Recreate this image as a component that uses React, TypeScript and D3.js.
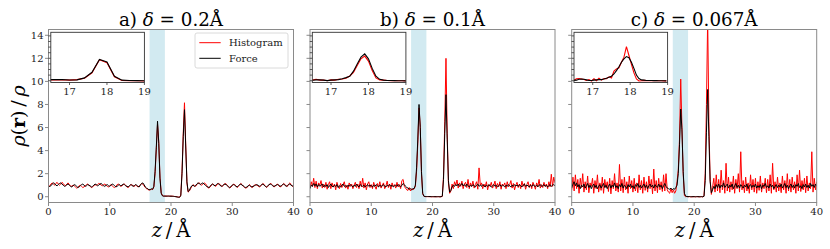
import React from 'react';
import * as d3 from 'd3';

// ---------- data ----------
const panelLabels = ['a)', 'b)', 'c)'];
const deltaLabels = ['0.2', '0.1', '0.067'];
const xTicks = [0, 10, 20, 30, 40];
const yTicks = [0, 2, 4, 6, 8, 10, 12, 14];
const insetXTicks = [17, 18, 19];
const insetYTicks = [0, 1, 2, 3, 4, 5, 6, 7, 8];
const shadeRange = [16.5, 19];
const mainStep = 0.2; // z spacing of the main series, z from 0 to 40

const forceA = [
  0.85,0.9,0.95,1.1,1.2,1.15,1.0,0.95,1.05,1.15,
  1.2,1.1,1.0,0.9,0.95,1.05,1.1,1.0,0.9,0.85,
  0.95,1.05,1.0,0.9,0.8,0.85,0.95,1.05,1.1,1.0,
  0.9,0.95,1.05,1.0,0.95,0.85,0.9,1.0,1.1,1.05,
  0.95,1.0,1.1,1.15,1.05,0.95,0.9,1.0,1.05,0.95,
  0.9,1.0,1.1,1.05,0.95,0.85,0.9,1.0,1.05,0.95,
  1.0,1.1,1.05,0.95,0.9,0.85,0.95,1.05,1.0,0.9,
  0.95,1.05,1.0,0.9,0.85,1.0,1.15,1.2,1.05,0.85,
  0.75,0.7,0.6,0.62,0.68,0.65,0.9,2.2,4.3,6.55,
  4.6,1.6,0.3,0.08,0.05,0.06,0.05,0.05,0.06,0.05,
  0.05,0.04,0.03,0.02,0.0,-0.02,-0.04,-0.05,0.1,2.0,
  5.2,7.55,4.4,1.3,0.45,0.55,0.8,0.95,1.0,0.9,
  0.95,1.1,1.2,1.15,1.05,1.15,1.2,1.1,1.0,0.9,
  0.85,0.8,0.9,1.05,1.1,1.0,0.95,1.05,1.15,1.1,
  1.0,0.9,0.95,1.05,1.1,1.05,0.95,0.85,0.8,0.9,
  1.0,1.05,1.0,0.9,0.85,0.95,1.05,1.1,1.0,0.95,
  0.85,0.8,0.85,0.95,1.0,0.9,0.85,0.9,0.95,1.0,
  1.05,1.0,0.9,0.95,1.05,1.1,1.0,0.9,0.85,0.95,
  1.05,1.1,1.05,0.95,0.9,0.95,1.0,1.05,1.0,0.9,
  0.95,1.05,1.1,1.0,0.9,0.95,1.05,1.1,1.0,0.95,
  0.9,
];
const histA = [
  0.8,0.95,1.1,1.2,1.1,1.0,1.15,1.25,1.1,1.0,
  1.1,1.25,1.15,1.0,0.95,1.1,1.2,1.05,0.95,0.9,
  1.0,0.95,0.85,0.75,0.8,0.95,1.0,0.9,0.8,0.85,
  0.95,1.05,1.1,1.0,0.9,0.8,0.85,0.95,1.05,1.0,
  1.05,1.15,1.1,1.0,0.95,1.05,1.1,1.0,0.9,0.85,
  0.95,1.05,0.95,0.85,0.8,0.9,1.05,1.1,1.0,0.9,
  0.95,1.05,1.1,1.0,0.85,0.8,0.9,1.0,1.05,0.95,
  0.9,1.0,0.95,0.85,0.9,1.05,1.15,1.1,0.95,0.8,
  0.7,0.65,0.58,0.6,0.65,0.62,0.85,2.0,4.1,6.3,
  4.8,1.7,0.35,0.1,0.06,0.05,0.06,0.06,0.05,0.05,
  0.05,0.05,0.04,0.02,0.01,-0.01,-0.03,-0.04,0.15,2.2,
  5.5,8.15,4.6,1.2,0.4,0.5,0.7,0.9,1.05,0.95,
  0.9,1.05,1.15,1.2,1.1,1.0,1.1,1.2,1.15,1.0,
  0.8,0.75,0.85,1.0,1.1,1.05,0.9,0.95,1.1,1.15,
  1.05,0.95,0.9,1.0,1.15,1.1,1.0,0.85,0.75,0.85,
  0.95,1.1,1.05,0.95,0.8,0.9,1.0,1.15,1.05,0.9,
  0.8,0.75,0.8,0.9,1.05,0.95,0.8,0.85,1.0,1.05,
  1.0,0.95,0.85,0.9,1.0,1.15,1.05,0.95,0.8,0.9,
  1.0,1.15,1.1,1.0,0.85,0.9,1.05,1.1,0.95,0.85,
  0.9,1.0,1.15,1.05,0.95,0.9,1.1,1.2,1.05,0.9,
  0.85,
];
const forceB = [
  0.7,1.0,0.9,1.15,0.95,1.1,0.85,1.05,0.9,1.0,
  1.1,0.85,1.0,0.9,1.05,0.8,0.95,1.1,0.9,0.85,
  1.0,0.9,1.05,0.8,0.95,0.85,1.0,1.1,0.9,0.95,
  0.85,1.0,0.9,1.05,0.95,0.85,1.0,0.9,1.1,0.95,
  0.85,1.05,0.95,0.9,1.0,0.85,0.95,1.05,0.9,1.0,
  0.95,0.85,1.0,0.9,1.05,0.95,0.85,1.0,0.9,0.95,
  1.05,0.9,0.85,1.0,0.95,1.05,0.9,1.0,0.85,0.95,
  1.0,0.9,1.05,0.95,0.85,1.0,1.15,1.05,0.9,0.8,
  0.75,0.65,0.7,0.6,0.7,0.7,1.0,2.5,5.0,8.0,
  6.0,2.2,0.3,0.05,0.02,0.02,0.01,0.02,0.01,0.01,
  0.01,0.0,0.01,0.0,0.0,0.01,0.0,0.0,0.05,1.5,
  5.5,8.85,5.0,1.4,0.4,0.55,0.85,1.0,0.9,1.05,
  0.95,1.1,0.9,1.0,1.15,0.95,1.05,0.9,1.1,0.95,
  0.85,1.0,0.9,1.05,0.95,0.85,1.0,1.1,0.9,1.0,
  0.9,1.05,0.95,0.85,1.0,0.9,1.05,0.95,0.85,0.95,
  1.05,0.9,1.0,0.85,0.95,1.05,0.9,1.0,0.95,0.85,
  1.0,0.9,1.05,0.95,0.85,1.0,0.9,1.05,0.95,1.0,
  0.9,1.05,0.95,0.85,1.0,1.1,0.9,1.0,0.95,0.85,
  1.0,0.9,1.05,0.95,0.9,1.0,0.85,1.0,1.05,0.9,
  0.95,1.05,0.9,1.0,0.85,0.95,1.05,0.9,1.0,1.05,
  0.95,
];
const histB = [
  0.8,1.3,0.9,1.6,0.8,1.35,0.7,1.2,1.0,1.4,
  0.75,1.1,0.8,1.25,0.65,1.05,1.3,0.7,1.2,0.85,
  1.1,0.6,1.25,0.9,0.7,1.15,0.8,1.05,1.3,0.75,
  1.0,0.65,1.2,0.9,1.1,0.7,1.0,1.25,0.8,1.1,
  0.7,1.35,0.85,1.6,0.75,1.2,0.6,1.1,1.3,0.8,
  1.05,0.7,1.25,0.9,0.65,1.15,0.85,1.3,0.75,1.0,
  1.2,0.7,0.95,1.35,0.8,1.1,0.65,1.2,0.9,1.05,
  0.75,1.25,0.85,1.05,0.7,1.4,1.5,0.9,0.75,0.6,
  0.55,0.8,0.5,0.7,0.6,0.7,0.9,2.2,4.6,7.7,
  6.1,2.0,0.25,0.03,0.01,0.0,0.02,0.0,0.01,-0.01,
  0.0,0.01,-0.01,0.0,0.01,0.0,-0.01,0.0,0.03,1.8,
  6.5,12.0,5.5,1.2,0.3,0.5,1.1,0.7,1.3,1.0,
  1.45,0.75,1.2,0.9,1.35,0.7,1.1,1.25,0.8,1.5,
  0.7,1.2,0.9,1.35,0.75,1.05,1.3,0.65,2.5,1.0,
  1.2,0.7,1.1,0.85,1.3,0.6,1.05,0.9,1.25,0.75,
  1.0,1.35,0.7,1.15,0.85,1.3,0.65,1.1,0.95,1.2,
  0.7,1.3,0.85,1.05,1.4,0.75,1.15,0.6,1.0,1.25,
  0.8,1.1,0.7,1.35,0.9,1.15,0.65,1.05,1.3,0.8,
  1.1,0.7,1.25,1.0,0.65,1.2,0.9,1.5,0.75,1.05,
  0.8,1.25,0.9,1.1,0.7,1.3,0.85,1.95,0.9,1.7,
  1.2,
];
const forceC = [
  0.75,1.1,1.3,0.95,1.2,0.85,1.05,0.7,1.0,0.85,
  1.1,0.75,0.95,1.15,0.8,1.0,0.7,0.95,1.1,0.8,
  1.0,0.7,0.9,1.05,0.75,0.95,1.15,0.8,1.0,0.7,
  0.9,1.1,0.75,1.0,0.85,1.2,0.8,0.95,0.7,1.05,
  0.85,1.15,0.75,1.0,0.9,0.7,1.05,0.85,1.1,0.8,
  0.95,0.7,1.05,0.9,1.15,0.8,1.0,0.75,0.95,1.1,
  0.8,1.0,0.7,0.95,1.1,0.85,1.0,0.75,1.05,0.9,
  0.8,1.1,0.85,1.0,0.7,0.95,1.15,0.9,0.75,0.7,
  0.65,0.75,0.6,0.7,0.65,0.8,1.0,2.0,4.5,7.6,
  5.8,2.2,0.3,0.05,0.02,0.01,0.02,0.0,0.01,0.0,
  0.01,0.0,0.0,0.01,0.0,0.0,0.01,0.0,0.03,1.4,
  5.6,9.3,5.2,1.3,0.35,0.6,0.9,0.7,1.05,0.8,
  1.1,0.75,1.0,0.85,1.2,0.8,0.95,1.1,0.75,1.0,
  0.85,1.1,0.7,0.95,1.15,0.8,1.0,0.75,1.05,0.9,
  0.75,1.0,0.85,1.1,0.7,0.95,1.05,0.8,1.0,0.85,
  1.1,0.75,0.95,0.8,1.05,0.7,1.0,0.9,1.15,0.8,
  0.95,0.75,1.1,0.85,1.0,0.7,0.9,1.05,0.8,1.0,
  0.85,1.1,0.75,0.95,1.15,0.8,1.0,0.7,0.95,1.1,
  0.8,1.0,0.75,1.05,0.9,1.15,0.8,0.95,0.7,1.05,
  0.85,1.1,0.8,1.0,0.75,1.15,0.9,1.05,0.8,1.1,
  0.9,
];
const histC = [
  0.6,1.7,0.5,1.9,0.7,1.5,0.3,1.6,0.8,2.0,
  0.4,1.3,0.6,1.8,0.35,1.2,0.9,1.6,0.3,1.4,
  0.7,1.9,0.4,1.2,0.55,1.7,0.3,1.5,0.8,1.3,
  0.45,1.6,0.25,1.4,0.7,2.0,0.5,1.2,0.4,2.8,
  0.5,1.5,0.35,1.7,0.6,1.3,0.3,1.8,0.7,1.4,
  0.4,1.6,0.5,1.2,0.35,1.9,0.6,1.4,0.3,1.7,
  0.55,1.3,0.4,1.8,0.7,1.5,0.25,2.4,0.5,1.4,
  0.35,1.6,0.6,1.3,0.45,1.9,0.5,2.0,0.6,0.4,
  0.3,0.7,0.35,0.6,0.3,0.5,1.3,2.3,5.0,10.2,
  6.0,2.0,0.1,0.0,0.02,-0.01,0.01,0.0,-0.02,0.01,
  0.0,-0.01,0.02,0.0,-0.01,0.0,0.01,-0.02,0.05,2.0,
  8.0,15.5,6.5,1.5,0.2,0.8,1.6,0.4,1.9,0.5,
  1.5,0.35,2.3,0.6,1.4,0.3,2.9,0.5,1.7,0.4,
  1.3,0.6,1.8,0.3,1.5,0.7,2.0,0.4,3.9,0.6,
  1.4,0.35,1.7,0.5,1.2,0.3,1.9,0.6,1.5,0.4,
  1.6,0.3,1.3,0.55,1.8,0.4,1.2,0.7,1.6,0.35,
  1.5,0.5,1.9,0.3,2.9,0.6,1.3,0.4,1.7,0.5,
  1.2,0.35,1.8,0.6,1.4,0.3,2.0,0.5,1.5,0.4,
  1.7,0.6,1.3,0.3,1.9,0.5,2.3,0.45,1.4,0.6,
  1.6,0.35,1.8,0.5,1.2,0.7,3.9,0.4,1.6,0.6,
  1.3,
];

// inset series (zoom on the first peak)
const insetStarts = [16.4, 16.5, 16.5];
const insetSteps = [0.2, 0.1, 0.0667];
const insetForceA = [0.2,0.2,0.2,0.12,0.15,0.5,1.5,3.8,3.35,0.8,0.1,0.05,0.02,-0.02];
const insetHistA = [0.15,0.15,0.18,0.1,0.2,0.45,1.4,3.75,3.2,0.7,0.05,0.02,0.0,-0.05];
const insetForceB = [0.07,0.15,0.15,0.1,0.02,0.1,0.15,0.2,0.35,0.55,0.8,1.7,3.0,4.2,4.8,3.9,2.2,0.8,0.25,0.1,0.05,0.03,0.02,0.0,-0.02,-0.03];
const insetHistB = [0.1,0.25,0.1,0.12,0.0,0.15,0.1,0.25,0.3,0.45,0.85,1.5,2.7,3.9,4.4,3.5,1.8,0.5,0.15,0.1,0.03,0.02,0.0,0.0,-0.02,-0.03];
const insetForceC = [0.05,0.1,0.25,0.3,0.25,0.15,0.05,0.05,0.1,0.15,0.2,0.2,0.3,0.45,0.6,0.8,1.2,1.8,2.5,3.3,3.9,4.3,4.1,3.3,2.2,1.0,0.4,0.15,0.1,0.05,0.05,0.03,0.02,0.02,0.0,0.0,-0.02,-0.03];
const insetHistC = [0.1,0.35,0.4,0.3,0.2,0.05,0.2,-0.05,0.35,0.0,0.45,0.1,0.4,0.35,0.7,0.5,1.7,2.1,2.3,3.3,4.2,6.1,4.5,2.9,1.4,0.3,-0.05,0.0,0.05,0.02,0.0,0.03,0.0,0.01,-0.02,0.0,-0.03,-0.03];

const forceSeries = [forceA, forceB, forceC];
const histSeries = [histA, histB, histC];
const insetForce = [insetForceA, insetForceB, insetForceC];
const insetHist = [insetHistA, insetHistB, insetHistC];

// ---------- layout ----------
const W = 830;
const H = 249;
const PANEL_X = [48.5, 310, 571.7];
const PW = 245;
const TOP = 29.5;
const PH = 173;
const FONT = 'DejaVu Serif, serif';
const SPINE = '#8a8a8a';
const THIN = '\u2009';

function Panel({ idx }: { idx: number }) {
  const x0 = PANEL_X[idx];
  const x = d3.scaleLinear().domain([0, 40]).range([x0, x0 + PW]);
  const y = d3.scaleLinear().domain([-0.5, 14.5]).range([TOP + PH, TOP]);
  const line = d3
    .line<number>()
    .x((_, k) => x(k * mainStep))
    .y((d) => y(d));

  const iL = x0 + 2.3;
  const iT = 32.3;
  const iW = 93.6;
  const iH = 50.2;
  const ix = d3.scaleLinear().domain([16.5, 19]).range([iL, iL + iW]);
  const iy = d3.scaleLinear().domain([-0.32, 8.64]).range([iT + iH, iT]);
  const iline = d3
    .line<number>()
    .x((_, k) => ix(insetStarts[idx] + k * insetSteps[idx]))
    .y((d) => iy(d));

  const clipId = `clip-main-${idx}`;
  const clipIn = `clip-inset-${idx}`;
  const cx = x0 + PW / 2;

  return (
    <g>
      <defs>
        <clipPath id={clipId}>
          <rect x={x0} y={TOP} width={PW} height={PH} />
        </clipPath>
        <clipPath id={clipIn}>
          <rect x={iL} y={iT} width={iW} height={iH} />
        </clipPath>
      </defs>
      {/* title */}
      <text x={cx} y={25.5} textAnchor="middle" fontSize={18.3} fontFamily={FONT} fill="#000">
        {`${panelLabels[idx]} `}
        <tspan fontStyle="italic">δ</tspan>
        {` = ${deltaLabels[idx]}Å`}
      </text>
      {/* shaded band */}
      <rect
        x={x(shadeRange[0])}
        y={TOP}
        width={x(shadeRange[1]) - x(shadeRange[0])}
        height={PH}
        fill="#add8e6"
        fillOpacity={0.55}
      />
      <g clipPath={`url(#${clipId})`}>
        <path d={line(histSeries[idx]) || ''} fill="none" stroke="#ff0000" strokeWidth={1} />
        <path d={line(forceSeries[idx]) || ''} fill="none" stroke="#000" strokeWidth={1} />
      </g>
      {/* frame */}
      <rect x={x0} y={TOP} width={PW} height={PH} fill="none" stroke={SPINE} strokeWidth={1} />
      {/* x ticks */}
      {xTicks.map((t) => (
        <g key={t}>
          <line x1={x(t)} x2={x(t)} y1={TOP + PH} y2={TOP + PH + 3.5} stroke={SPINE} />
          <text x={x(t)} y={214.5} textAnchor="middle" fontSize={10} fontFamily={FONT} fill="#222">
            {t}
          </text>
        </g>
      ))}
      {/* y ticks */}
      {yTicks.map((t) => (
        <g key={t}>
          <line x1={x0 - 3.5} x2={x0} y1={y(t)} y2={y(t)} stroke={SPINE} />
          {idx === 0 && (
            <text x={x0 - 5} y={y(t) + 3.6} textAnchor="end" fontSize={10} fontFamily={FONT} fill="#222">
              {t}
            </text>
          )}
        </g>
      ))}
      {/* inset */}
      <rect x={iL} y={iT} width={iW} height={iH} fill="#fff" />
      <g clipPath={`url(#${clipIn})`}>
        <path d={iline(insetHist[idx]) || ''} fill="none" stroke="#ff0000" strokeWidth={1.1} />
        <path d={iline(insetForce[idx]) || ''} fill="none" stroke="#000" strokeWidth={1.1} />
      </g>
      <rect x={iL} y={iT} width={iW} height={iH} fill="none" stroke="#333" strokeWidth={0.9} />
      {insetYTicks.map((t) => (
        <line key={t} x1={iL - 2.5} x2={iL} y1={iy(t)} y2={iy(t)} stroke="#333" strokeWidth={0.8} />
      ))}
      {insetXTicks.map((t) => (
        <g key={t}>
          <line x1={ix(t)} x2={ix(t)} y1={iT + iH} y2={iT + iH + 2.5} stroke="#333" strokeWidth={0.8} />
          <text x={ix(t)} y={95} textAnchor="middle" fontSize={10} fontFamily={FONT} fill="#222">
            {t}
          </text>
        </g>
      ))}
      {/* x label */}
      <text x={cx} y={236.5} textAnchor="middle" fontSize={19.5} fontFamily={FONT} fill="#000">
        <tspan fontStyle="italic">z</tspan>
        {`${THIN}/${THIN}Å`}
      </text>
    </g>
  );
}

function Legend() {
  const lx = 195;
  const ly = 33;
  return (
    <g>
      <rect x={lx} y={ly} width={93} height={35} rx={2} fill="#fff" fillOpacity={0.85} stroke="#d0d0d0" strokeWidth={0.8} />
      <line x1={199.3} x2={220.7} y1={42.7} y2={42.7} stroke="#ff0000" strokeWidth={1} />
      <line x1={199.3} x2={220.7} y1={58.3} y2={58.3} stroke="#000" strokeWidth={1} />
      <text x={229} y={46.3} fontSize={10} fontFamily={FONT} fill="#222">Histogram</text>
      <text x={229} y={61.9} fontSize={10} fontFamily={FONT} fill="#222">Force</text>
    </g>
  );
}

export default function App() {
  return (
    <svg
      width={W}
      height={H}
      viewBox={`0 0 ${W} ${H}`}
      style={{ position: 'absolute', left: 0, top: 0, background: '#fff' }}
    >
      <rect x={0} y={0} width={W} height={H} fill="#fff" />
      {[0, 1, 2].map((i) => (
        <Panel key={i} idx={i} />
      ))}
      <Legend />
      <text
        transform={`translate(24.5, 116) rotate(-90)`}
        textAnchor="middle"
        fontSize={19}
        fontFamily={FONT}
        fill="#000"
      >
        <tspan fontStyle="italic">ρ</tspan>
        (
        <tspan fontWeight="bold">r</tspan>
        {`)${THIN}/${THIN}`}
        <tspan fontStyle="italic">ρ</tspan>
      </text>
    </svg>
  );
}
